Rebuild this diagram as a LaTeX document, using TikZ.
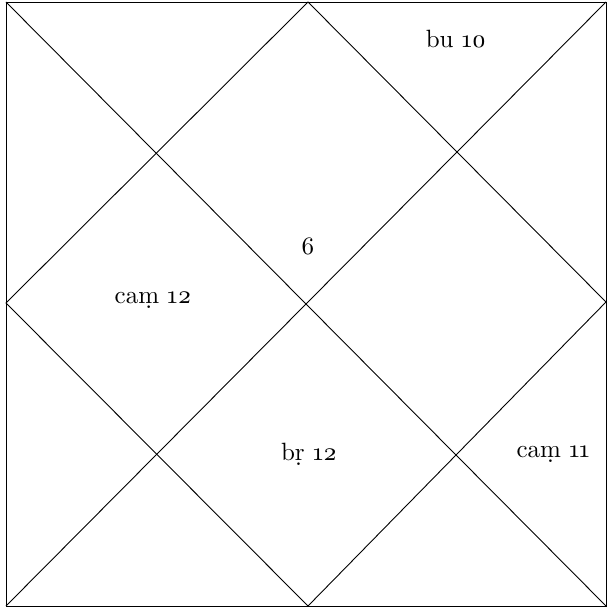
\documentclass[tikz,border=0pt]{standalone}
\usepackage{fontspec}
\setmainfont{lmroman10-regular.otf}[Numbers=OldStyle]
\usetikzlibrary{positioning}
\tikzset{
  chartline/.style={draw=black, line width=0.9pt},
  house/.style={font=\fontsize{25}{29}\selectfont, inner sep=0pt},
}

\begin{document}
\begin{tikzpicture}[x=1pt, y=-1pt]
\useasboundingbox (0,0) rectangle (606,610);

% corners and mid points of the chart
\coordinate (tl) at (6,2);
\coordinate (tr) at (606,2);
\coordinate (br) at (606,606);
\coordinate (bl) at (6,606);
\coordinate (tm) at (308,2);
\coordinate (rm) at (606,302);
\coordinate (bm) at (308,606);
\coordinate (lm) at (6,303);

% frame, diagonals and diamond
\draw[chartline] (tl) -- (tr) -- (br) -- (bl) -- cycle;
\draw[chartline] (tl) -- (br);
\draw[chartline] (tr) -- (bl);
\draw[chartline] (tm) -- (rm) -- (bm) -- (lm) -- cycle;

% house labels
\node[house] (bu) at (456,39) {bu 10};
\node[house] (lagna) at (308,246) {6};
\node[house] (cam12) at (153,300) {caṃ 12};
\node[house] (br12) at (309,454) {bṛ 12};
\node[house] (cam11) at (553,454) {caṃ 11};

\end{tikzpicture}
\end{document}
